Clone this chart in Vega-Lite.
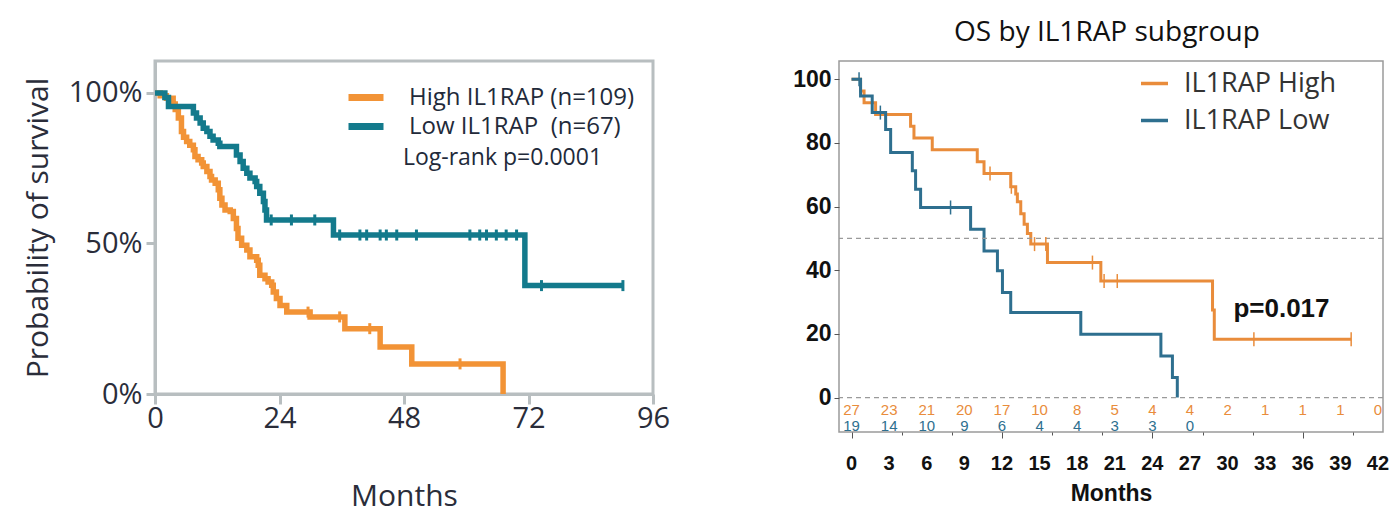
{
  "$schema": "https://vega.github.io/schema/vega-lite/v6.json",
  "background": "white",
  "padding": {"left": 21, "top": 18, "right": 5, "bottom": 5},
  "bounds": "flush",
  "spacing": 186,
  "config": {"axis": {"labelOverlap": false}},
  "resolve": {"scale": {"color": "independent", "x": "independent", "y": "independent"}, "legend": {"color": "independent"}},
  "datasets": {
    "leftKM": [
      {"grp": "High IL1RAP (n=109)", "t": 0, "s": 100}, {"grp": "High IL1RAP (n=109)", "t": 1.0, "s": 99.1}, {"grp": "High IL1RAP (n=109)", "t": 2.2, "s": 98.2},
      {"grp": "High IL1RAP (n=109)", "t": 3.5, "s": 96.3}, {"grp": "High IL1RAP (n=109)", "t": 3.9, "s": 94.5}, {"grp": "High IL1RAP (n=109)", "t": 4.5, "s": 91.7},
      {"grp": "High IL1RAP (n=109)", "t": 5.1, "s": 87.2}, {"grp": "High IL1RAP (n=109)", "t": 5.5, "s": 85.3}, {"grp": "High IL1RAP (n=109)", "t": 6.1, "s": 83.9},
      {"grp": "High IL1RAP (n=109)", "t": 6.7, "s": 82.6}, {"grp": "High IL1RAP (n=109)", "t": 7.4, "s": 81.1}, {"grp": "High IL1RAP (n=109)", "t": 7.7, "s": 78.9},
      {"grp": "High IL1RAP (n=109)", "t": 8.3, "s": 77.8}, {"grp": "High IL1RAP (n=109)", "t": 9.0, "s": 76.7}, {"grp": "High IL1RAP (n=109)", "t": 9.3, "s": 75.6},
      {"grp": "High IL1RAP (n=109)", "t": 10.0, "s": 73.9}, {"grp": "High IL1RAP (n=109)", "t": 10.6, "s": 72.2}, {"grp": "High IL1RAP (n=109)", "t": 10.9, "s": 71.1},
      {"grp": "High IL1RAP (n=109)", "t": 11.6, "s": 70.0}, {"grp": "High IL1RAP (n=109)", "t": 12.2, "s": 67.8}, {"grp": "High IL1RAP (n=109)", "t": 12.5, "s": 65.0},
      {"grp": "High IL1RAP (n=109)", "t": 12.9, "s": 62.8}, {"grp": "High IL1RAP (n=109)", "t": 13.5, "s": 61.1}, {"grp": "High IL1RAP (n=109)", "t": 14.5, "s": 60.6},
      {"grp": "High IL1RAP (n=109)", "t": 15.1, "s": 58.3}, {"grp": "High IL1RAP (n=109)", "t": 15.7, "s": 55.0}, {"grp": "High IL1RAP (n=109)", "t": 16.0, "s": 51.7},
      {"grp": "High IL1RAP (n=109)", "t": 16.7, "s": 49.4}, {"grp": "High IL1RAP (n=109)", "t": 17.7, "s": 47.8}, {"grp": "High IL1RAP (n=109)", "t": 18.3, "s": 45.6},
      {"grp": "High IL1RAP (n=109)", "t": 19.6, "s": 44.4}, {"grp": "High IL1RAP (n=109)", "t": 19.9, "s": 42.8}, {"grp": "High IL1RAP (n=109)", "t": 20.2, "s": 39.4},
      {"grp": "High IL1RAP (n=109)", "t": 21.2, "s": 38.3}, {"grp": "High IL1RAP (n=109)", "t": 21.8, "s": 37.2}, {"grp": "High IL1RAP (n=109)", "t": 22.5, "s": 36.1},
      {"grp": "High IL1RAP (n=109)", "t": 22.8, "s": 33.9}, {"grp": "High IL1RAP (n=109)", "t": 23.4, "s": 31.7}, {"grp": "High IL1RAP (n=109)", "t": 24.1, "s": 29.4},
      {"grp": "High IL1RAP (n=109)", "t": 25.4, "s": 27.2}, {"grp": "High IL1RAP (n=109)", "t": 29.9, "s": 25.6}, {"grp": "High IL1RAP (n=109)", "t": 36.6, "s": 21.7},
      {"grp": "High IL1RAP (n=109)", "t": 43.4, "s": 15.6}, {"grp": "High IL1RAP (n=109)", "t": 49.5, "s": 10.0}, {"grp": "High IL1RAP (n=109)", "t": 67.1, "s": 0},
      {"grp": "Low IL1RAP\u00a0 (n=67)", "t": 0, "s": 100}, {"grp": "Low IL1RAP\u00a0 (n=67)", "t": 1.9, "s": 98.5}, {"grp": "Low IL1RAP\u00a0 (n=67)", "t": 2.6, "s": 95.5},
      {"grp": "Low IL1RAP\u00a0 (n=67)", "t": 7.4, "s": 93.3}, {"grp": "Low IL1RAP\u00a0 (n=67)", "t": 8.0, "s": 91.7}, {"grp": "Low IL1RAP\u00a0 (n=67)", "t": 8.7, "s": 90.0},
      {"grp": "Low IL1RAP\u00a0 (n=67)", "t": 9.3, "s": 88.3}, {"grp": "Low IL1RAP\u00a0 (n=67)", "t": 10.0, "s": 87.2}, {"grp": "Low IL1RAP\u00a0 (n=67)", "t": 10.6, "s": 85.6},
      {"grp": "Low IL1RAP\u00a0 (n=67)", "t": 11.2, "s": 84.4}, {"grp": "Low IL1RAP\u00a0 (n=67)", "t": 12.2, "s": 83.3}, {"grp": "Low IL1RAP\u00a0 (n=67)", "t": 12.5, "s": 82.2},
      {"grp": "Low IL1RAP\u00a0 (n=67)", "t": 15.7, "s": 79.4}, {"grp": "Low IL1RAP\u00a0 (n=67)", "t": 16.4, "s": 77.2}, {"grp": "Low IL1RAP\u00a0 (n=67)", "t": 17.0, "s": 75.0},
      {"grp": "Low IL1RAP\u00a0 (n=67)", "t": 17.7, "s": 73.3}, {"grp": "Low IL1RAP\u00a0 (n=67)", "t": 18.3, "s": 71.7}, {"grp": "Low IL1RAP\u00a0 (n=67)", "t": 19.3, "s": 70.6},
      {"grp": "Low IL1RAP\u00a0 (n=67)", "t": 19.6, "s": 68.9}, {"grp": "Low IL1RAP\u00a0 (n=67)", "t": 20.2, "s": 66.7}, {"grp": "Low IL1RAP\u00a0 (n=67)", "t": 20.9, "s": 63.9},
      {"grp": "Low IL1RAP\u00a0 (n=67)", "t": 21.2, "s": 61.1}, {"grp": "Low IL1RAP\u00a0 (n=67)", "t": 21.5, "s": 57.8}, {"grp": "Low IL1RAP\u00a0 (n=67)", "t": 34.4, "s": 52.8},
      {"grp": "Low IL1RAP\u00a0 (n=67)", "t": 71.3, "s": 36.0}, {"grp": "Low IL1RAP\u00a0 (n=67)", "t": 90.2, "s": 36.0}
    ],
    "leftCens": [
      {"grp": "Low IL1RAP\u00a0 (n=67)", "t": 22.4, "s": 57.8}, {"grp": "Low IL1RAP\u00a0 (n=67)", "t": 26.3, "s": 57.8}, {"grp": "Low IL1RAP\u00a0 (n=67)", "t": 30.8, "s": 57.8},
      {"grp": "Low IL1RAP\u00a0 (n=67)", "t": 35.6, "s": 52.8}, {"grp": "Low IL1RAP\u00a0 (n=67)", "t": 39.5, "s": 52.8}, {"grp": "Low IL1RAP\u00a0 (n=67)", "t": 40.8, "s": 52.8},
      {"grp": "Low IL1RAP\u00a0 (n=67)", "t": 43.4, "s": 52.8}, {"grp": "Low IL1RAP\u00a0 (n=67)", "t": 44.6, "s": 52.8}, {"grp": "Low IL1RAP\u00a0 (n=67)", "t": 46.6, "s": 52.8},
      {"grp": "Low IL1RAP\u00a0 (n=67)", "t": 50.4, "s": 52.8}, {"grp": "Low IL1RAP\u00a0 (n=67)", "t": 60.7, "s": 52.8}, {"grp": "Low IL1RAP\u00a0 (n=67)", "t": 62.6, "s": 52.8},
      {"grp": "Low IL1RAP\u00a0 (n=67)", "t": 63.9, "s": 52.8}, {"grp": "Low IL1RAP\u00a0 (n=67)", "t": 65.8, "s": 52.8}, {"grp": "Low IL1RAP\u00a0 (n=67)", "t": 67.7, "s": 52.8},
      {"grp": "Low IL1RAP\u00a0 (n=67)", "t": 69.7, "s": 52.8}, {"grp": "Low IL1RAP\u00a0 (n=67)", "t": 74.5, "s": 36.0}, {"grp": "Low IL1RAP\u00a0 (n=67)", "t": 90.2, "s": 36.0},
      {"grp": "High IL1RAP (n=109)", "t": 29.5, "s": 27.2}, {"grp": "High IL1RAP (n=109)", "t": 35.6, "s": 25.6}, {"grp": "High IL1RAP (n=109)", "t": 41.4, "s": 21.7},
      {"grp": "High IL1RAP (n=109)", "t": 58.8, "s": 10.0}
    ],
    "rightKM": [
      {"grp": "IL1RAP High", "t": 0, "s": 100}, {"grp": "IL1RAP High", "t": 0.72, "s": 96.3}, {"grp": "IL1RAP High", "t": 1.0, "s": 92.6},
      {"grp": "IL1RAP High", "t": 1.92, "s": 88.9}, {"grp": "IL1RAP High", "t": 4.71, "s": 85.2}, {"grp": "IL1RAP High", "t": 4.98, "s": 81.5},
      {"grp": "IL1RAP High", "t": 6.44, "s": 77.8}, {"grp": "IL1RAP High", "t": 10.03, "s": 74.1}, {"grp": "IL1RAP High", "t": 10.57, "s": 70.4},
      {"grp": "IL1RAP High", "t": 12.7, "s": 66.2}, {"grp": "IL1RAP High", "t": 13.1, "s": 63.9}, {"grp": "IL1RAP High", "t": 13.23, "s": 61.5},
      {"grp": "IL1RAP High", "t": 13.5, "s": 57.7}, {"grp": "IL1RAP High", "t": 13.77, "s": 54.4}, {"grp": "IL1RAP High", "t": 14.03, "s": 51.5},
      {"grp": "IL1RAP High", "t": 14.3, "s": 48.2}, {"grp": "IL1RAP High", "t": 15.63, "s": 42.4}, {"grp": "IL1RAP High", "t": 19.89, "s": 36.6},
      {"grp": "IL1RAP High", "t": 28.8, "s": 27.5}, {"grp": "IL1RAP High", "t": 28.94, "s": 18.3}, {"grp": "IL1RAP High", "t": 39.86, "s": 18.3},
      {"grp": "IL1RAP Low", "t": 0, "s": 100}, {"grp": "IL1RAP Low", "t": 0.72, "s": 94.7}, {"grp": "IL1RAP Low", "t": 1.65, "s": 89.5},
      {"grp": "IL1RAP Low", "t": 2.72, "s": 84.2}, {"grp": "IL1RAP Low", "t": 3.12, "s": 77.0}, {"grp": "IL1RAP Low", "t": 4.85, "s": 71.2},
      {"grp": "IL1RAP Low", "t": 5.11, "s": 65.4}, {"grp": "IL1RAP Low", "t": 5.51, "s": 59.7}, {"grp": "IL1RAP Low", "t": 9.5, "s": 52.9},
      {"grp": "IL1RAP Low", "t": 10.57, "s": 46.0}, {"grp": "IL1RAP Low", "t": 11.64, "s": 39.8}, {"grp": "IL1RAP Low", "t": 12.04, "s": 33.0},
      {"grp": "IL1RAP Low", "t": 12.7, "s": 26.7}, {"grp": "IL1RAP Low", "t": 18.29, "s": 19.9}, {"grp": "IL1RAP Low", "t": 24.68, "s": 13.1},
      {"grp": "IL1RAP Low", "t": 25.6, "s": 6.3}, {"grp": "IL1RAP Low", "t": 25.99, "s": 0}
    ],
    "rightCens": [
      {"grp": "IL1RAP Low", "t": 0.6, "s": 100}, {"grp": "IL1RAP Low", "t": 2.3, "s": 89.5}, {"grp": "IL1RAP Low", "t": 7.9, "s": 59.7},
      {"grp": "IL1RAP High", "t": 11.05, "s": 70.4}, {"grp": "IL1RAP High", "t": 12.75, "s": 66.2}, {"grp": "IL1RAP High", "t": 14.6, "s": 48.2},
      {"grp": "IL1RAP High", "t": 15.5, "s": 48.2}, {"grp": "IL1RAP High", "t": 19.22, "s": 42.4}, {"grp": "IL1RAP High", "t": 20.15, "s": 36.6},
      {"grp": "IL1RAP High", "t": 21.2, "s": 36.6}, {"grp": "IL1RAP High", "t": 32.1, "s": 18.3}, {"grp": "IL1RAP High", "t": 39.86, "s": 18.3}
    ],
    "risk": [
      {"grp": "IL1RAP High", "t": 0, "n": 27}, {"grp": "IL1RAP High", "t": 3, "n": 23}, {"grp": "IL1RAP High", "t": 6, "n": 21},
      {"grp": "IL1RAP High", "t": 9, "n": 20}, {"grp": "IL1RAP High", "t": 12, "n": 17}, {"grp": "IL1RAP High", "t": 15, "n": 10},
      {"grp": "IL1RAP High", "t": 18, "n": 8}, {"grp": "IL1RAP High", "t": 21, "n": 5}, {"grp": "IL1RAP High", "t": 24, "n": 4},
      {"grp": "IL1RAP High", "t": 27, "n": 4}, {"grp": "IL1RAP High", "t": 30, "n": 2}, {"grp": "IL1RAP High", "t": 33, "n": 1},
      {"grp": "IL1RAP High", "t": 36, "n": 1}, {"grp": "IL1RAP High", "t": 39, "n": 1}, {"grp": "IL1RAP High", "t": 42, "n": 0},
      {"grp": "IL1RAP Low", "t": 0, "n": 19}, {"grp": "IL1RAP Low", "t": 3, "n": 14}, {"grp": "IL1RAP Low", "t": 6, "n": 10},
      {"grp": "IL1RAP Low", "t": 9, "n": 9}, {"grp": "IL1RAP Low", "t": 12, "n": 6}, {"grp": "IL1RAP Low", "t": 15, "n": 4},
      {"grp": "IL1RAP Low", "t": 18, "n": 4}, {"grp": "IL1RAP Low", "t": 21, "n": 3}, {"grp": "IL1RAP Low", "t": 24, "n": 3},
      {"grp": "IL1RAP Low", "t": 27, "n": 0}
    ],
    "monthTicks": [
      {"m": 0}, {"m": 3}, {"m": 6}, {"m": 9}, {"m": 12}, {"m": 15}, {"m": 18}, {"m": 21},
      {"m": 24}, {"m": 27}, {"m": 30}, {"m": 33}, {"m": 36}, {"m": 39}, {"m": 42}
    ]
  },
  "hconcat": [
    {
      "width": 498,
      "height": 333,
      "view": {"stroke": "#b8bec0", "strokeWidth": 3},
      "layer": [
        {"data": {"name": "leftKM"}, "mark": {"type": "line", "interpolate": "step-after", "strokeWidth": 5.5, "opacity": 1},
          "encoding": {
            "x": {"field": "t", "type": "quantitative", "scale": {"domain": [0, 96], "nice": false, "zero": false},
              "axis": {"values": [0, 24, 48, 72, 96], "title": "Months", "titleFont": "Open Sans", "titleFontSize": 30, "titleFontWeight": "normal", "titleColor": "#2a2d3a", "titlePadding": 48,
                "labelFont": "Open Sans", "labelFontSize": 29, "labelColor": "#2a2d3a", "labelPadding": 0, "labelFlush": false,
                "domainColor": "#b8bec0", "domainWidth": 3, "tickColor": "#b8bec0", "tickWidth": 3, "tickSize": 10, "grid": false}},
            "y": {"field": "s", "type": "quantitative", "scale": {"domain": [0, 110.6], "nice": false},
              "axis": {"values": [0, 50, 100], "labelExpr": "datum.value + '%'", "title": "Probability of survival", "titleFont": "Open Sans", "titleFontSize": 30, "titleFontWeight": "normal", "titleColor": "#2a2d3a", "titlePadding": 15,
                "labelFont": "Open Sans", "labelFontSize": 29, "labelColor": "#2a2d3a", "labelPadding": 4,
                "domainColor": "#b8bec0", "domainWidth": 3, "tickColor": "#b8bec0", "tickWidth": 3, "tickSize": 9, "grid": false}},
            "color": {"field": "grp", "type": "nominal",
              "scale": {"domain": ["High IL1RAP (n=109)", "Low IL1RAP\u00a0 (n=67)"], "range": ["#f29336", "#137a8c"]},
              "legend": {"orient": "none", "legendX": 190, "legendY": 22, "title": null, "symbolType": "stroke", "symbolStrokeWidth": 7, "symbolSize": 1225, "symbolOpacity": 1,
                "clipHeight": 29, "labelFont": "Open Sans", "labelFontSize": 24, "labelColor": "#222a3a", "labelLimit": 0, "rowPadding": 0, "labelOffset": 22}}
          }},
        {"data": {"name": "leftCens"}, "mark": {"type": "tick", "orient": "vertical", "size": 11, "thickness": 3, "opacity": 1},
          "encoding": {
            "x": {"field": "t", "type": "quantitative"},
            "y": {"field": "s", "type": "quantitative"},
            "color": {"field": "grp", "type": "nominal"}
          }},
        {"data": {"values": [{"label": "Log-rank p=0.0001"}]},
          "mark": {"type": "text", "align": "left", "baseline": "middle", "font": "Open Sans", "fontSize": 23, "fill": "#222a3a"},
          "encoding": {"x": {"datum": 47.8, "type": "quantitative"}, "y": {"datum": 78.4, "type": "quantitative"}, "text": {"field": "label", "type": "nominal"}}}
      ]
    },
    {
      "width": 544,
      "height": 371,
      "title": {"text": "OS by IL1RAP subgroup", "font": "Open Sans", "fontSize": 28, "fontWeight": "normal", "color": "#111111", "offset": 14, "anchor": "middle", "dx": -4},
      "view": {"stroke": "#9a9a9a", "strokeWidth": 1.5},
      "layer": [
        {"data": {"name": "rightKM"}, "mark": {"type": "line", "interpolate": "step-after", "strokeWidth": 3, "opacity": 1},
          "encoding": {
            "x": {"field": "t", "type": "quantitative", "scale": {"domain": [-1.0, 42.4], "nice": false, "zero": false},
              "axis": {"values": [0,1,2,3,4,5,6,7,8,9,10,11,12,13,14,15,16,17,18,19,20,21,22,23,24,25,26,27,28,29,30,31,32,33,34,35,36,37,38,39,40,41,42],
                "labels": false,
                "title": "Months", "titleFont": "Liberation Sans", "titleFontSize": 23, "titleFontWeight": "bold", "titleColor": "#111111", "titlePadding": 44,
                "domain": false, "tickColor": "#555555", "tickWidth": 1,
                "tickSize": {"condition": {"test": "datum.value % 3 === 0", "value": 6}, "value": 3}, "grid": false}},
            "y": {"field": "s", "type": "quantitative",
              "scale": {"domain": [-10.8, 105.7], "nice": false, "zero": false},
              "axis": {"values": [0,10,20,30,40,50,60,70,80,90,100], "labelExpr": "datum.value % 20 === 0 ? datum.value : ''", "labelOverlap": false,
                "title": null, "labelFont": "Liberation Sans", "labelFontSize": 23, "labelFontWeight": "bold", "labelColor": "#111111", "labelPadding": 3,
                "domain": false, "tickColor": "#555555", "tickSize": 5, "grid": false}},
            "color": {"field": "grp", "type": "nominal",
              "scale": {"domain": ["IL1RAP High", "IL1RAP Low"], "range": ["#e98c3b", "#2e6f8f"]},
              "legend": {"orient": "none", "legendX": 300, "legendY": 4, "title": null, "symbolType": "stroke", "symbolStrokeWidth": 3.5, "symbolSize": 729, "symbolOpacity": 1,
                "clipHeight": 37, "labelFont": "Open Sans", "labelFontSize": 27, "labelColor": "#333333", "labelLimit": 0, "rowPadding": 0, "labelOffset": 14}}
          }},
        {"data": {"values": [{"lvl": 50}, {"lvl": 0}]},
          "mark": {"type": "rule", "strokeDash": [5, 4], "color": "#9a9a9a", "strokeWidth": 1.2},
          "encoding": {"y": {"field": "lvl", "type": "quantitative"}}},
        {"data": {"name": "rightCens"}, "mark": {"type": "tick", "orient": "vertical", "size": 14, "thickness": 1.5, "opacity": 1},
          "encoding": {
            "x": {"field": "t", "type": "quantitative"},
            "y": {"field": "s", "type": "quantitative"},
            "color": {"field": "grp", "type": "nominal"}
          }},
        {"data": {"name": "risk"}, "transform": [{"filter": "datum.grp === 'IL1RAP High'"}],
          "mark": {"type": "text", "align": "center", "baseline": "middle", "font": "Liberation Sans", "fontSize": 15},
          "encoding": {
            "x": {"field": "t", "type": "quantitative"},
            "y": {"datum": -4.0, "type": "quantitative"},
            "text": {"field": "n", "type": "quantitative"},
            "color": {"field": "grp", "type": "nominal"}
          }},
        {"data": {"name": "risk"}, "transform": [{"filter": "datum.grp === 'IL1RAP Low'"}],
          "mark": {"type": "text", "align": "center", "baseline": "middle", "font": "Liberation Sans", "fontSize": 15},
          "encoding": {
            "x": {"field": "t", "type": "quantitative"},
            "y": {"datum": -8.9, "type": "quantitative"},
            "text": {"field": "n", "type": "quantitative"},
            "color": {"field": "grp", "type": "nominal"}
          }},
        {"data": {"name": "monthTicks"},
          "mark": {"type": "text", "align": "center", "baseline": "middle", "font": "Liberation Sans", "fontSize": 20, "fontWeight": "bold", "fill": "#111111"},
          "encoding": {
            "x": {"field": "m", "type": "quantitative"},
            "y": {"datum": -20.8, "type": "quantitative"},
            "text": {"field": "m", "type": "quantitative"}
          }},
        {"data": {"values": [{"label": "p=0.017"}]},
          "mark": {"type": "text", "align": "center", "baseline": "middle", "font": "Liberation Sans", "fontSize": 26, "fontWeight": "bold", "fill": "#111111"},
          "encoding": {"x": {"datum": 34.3, "type": "quantitative"}, "y": {"datum": 27.9, "type": "quantitative"}, "text": {"field": "label", "type": "nominal"}}}
      ]
    }
  ]
}
